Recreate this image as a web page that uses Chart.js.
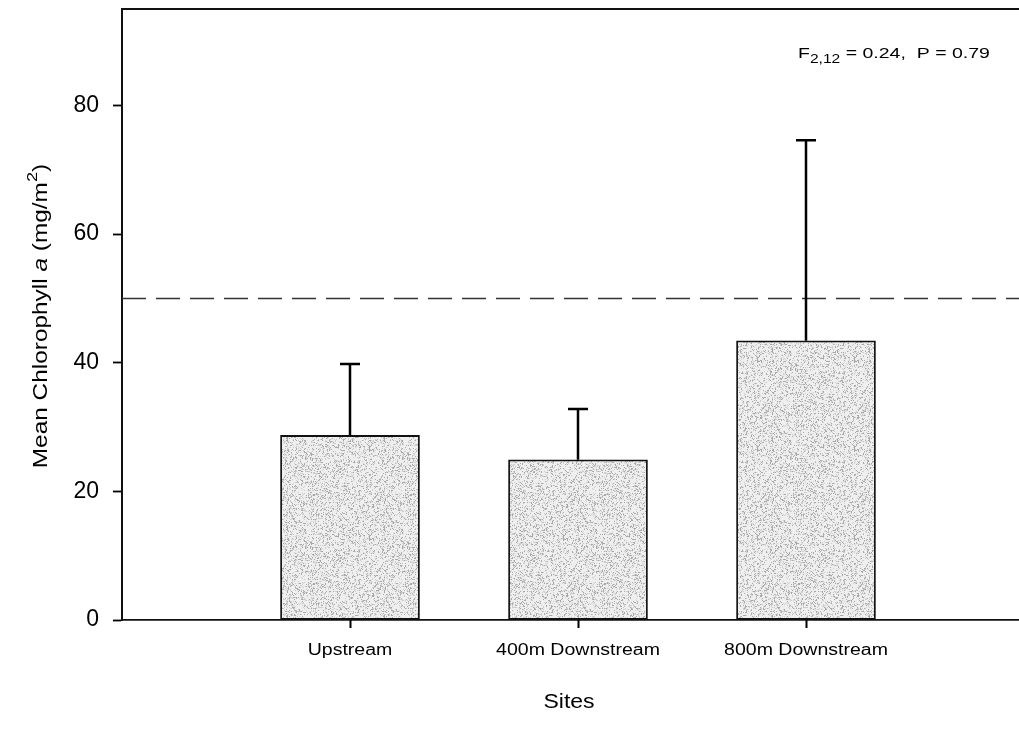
<!DOCTYPE html>
<html>
<head>
<meta charset="utf-8">
<script src="https://cdn.jsdelivr.net/npm/chart.js@4.4.0/dist/chart.umd.min.js"></script>
<style>
  html, body { margin: 0; padding: 0; background: #fff; overflow: hidden; }
  #wrap { position: relative; width: 1034px; height: 738px; }
</style>
</head>
<body>
<div id="wrap"><canvas id="chl"></canvas></div>
<script>
// Sites along the stream and their mean chlorophyll a (mg/m2)
const sites = ['Upstream', '400m Downstream', '800m Downstream'];
const meanChl = [28.7, 24.9, 43.4];
// upper error bar length for each site
const chlError = [11.1, 7.9, 31.2];
// dashed reference level
const thresholdLevel = 50;
const yTickValues = [0, 20, 40, 60, 80];
const yMax = 95;
const statsLabel = { f: 'F', df: '2,12', rest: ' = 0.24,  P = 0.79' };
const xTitle = 'Sites';

const FONT = '"Liberation Sans", Arial, Helvetica, sans-serif';
const STRETCH = 1.3;

// stippled grey fill for the bars
function stipple() {
  const c = document.createElement('canvas');
  c.width = 97; c.height = 89;
  const g = c.getContext('2d');
  g.fillStyle = '#efefef';
  g.fillRect(0, 0, c.width, c.height);
  for (let i = 0; i < c.width; i++) {
    for (let j = 0; j < c.height; j++) {
      let h = Math.imul(i, 374761393) + Math.imul(j, 668265263);
      h = Math.imul(h ^ (h >>> 13), 1274126177);
      h = (h ^ (h >>> 16)) >>> 0;
      const r = h % 100;
      if (r < 14) { g.fillStyle = '#a8a8a8'; g.fillRect(i, j, 1, 1); }
      else if (r < 30) { g.fillStyle = '#cdcdcd'; g.fillRect(i, j, 1, 1); }
    }
  }
  return g.createPattern(c, 'repeat');
}

// draw a run of text pieces, widened horizontally like the original figure
function drawPieces(ctx, pieces, x, y, rot, align, stretch) {
  const sx = stretch || STRETCH;
  ctx.save();
  let w = 0;
  pieces.forEach(p => {
    ctx.font = (p.italic ? 'italic ' : '') + p.size + 'px ' + FONT;
    p.w = ctx.measureText(p.t).width;
    w += p.w;
  });
  ctx.translate(x, y);
  ctx.rotate(rot || 0);
  ctx.scale(sx, 1);
  let cx = align === 'left' ? 0 : -w / 2;
  ctx.fillStyle = '#000';
  ctx.textBaseline = 'alphabetic';
  ctx.textAlign = 'left';
  pieces.forEach(p => {
    ctx.font = (p.italic ? 'italic ' : '') + p.size + 'px ' + FONT;
    ctx.fillText(p.t, cx, p.dy || 0);
    cx += p.w;
  });
  ctx.restore();
}

const decorations = {
  id: 'decorations',
  afterDatasetsDraw(chart) {
    const { ctx, chartArea: a } = chart;
    const xs = chart.scales.x, ys = chart.scales.y;
    ctx.save();
    // top frame line
    ctx.strokeStyle = '#111';
    ctx.lineWidth = 2;
    ctx.beginPath();
    ctx.moveTo(a.left - 1, a.top);
    ctx.lineTo(a.right, a.top);
    ctx.stroke();
    // category tick marks below the axis
    ctx.strokeStyle = '#000';
    ctx.lineWidth = 2;
    sites.forEach((s, k) => {
      const px = Math.round(xs.getPixelForTick(k + 1)) + 0.5;
      ctx.beginPath();
      ctx.moveTo(px, a.bottom);
      ctx.lineTo(px, a.bottom + 8);
      ctx.stroke();
    });
    // dashed reference line
    const ty = ys.getPixelForValue(thresholdLevel);
    ctx.strokeStyle = '#333';
    ctx.lineWidth = 1.5;
    ctx.setLineDash([24, 10]);
    ctx.beginPath();
    ctx.moveTo(a.left, ty);
    ctx.lineTo(a.right, ty);
    ctx.stroke();
    ctx.setLineDash([]);
    // upper error bars
    const meta = chart.getDatasetMeta(0);
    ctx.strokeStyle = '#000';
    ctx.lineWidth = 2.5;
    meta.data.forEach((bar, i) => {
      const k = i - 1;
      if (k < 0 || k >= meanChl.length) return;
      const top = ys.getPixelForValue(meanChl[k] + chlError[k]);
      ctx.beginPath();
      ctx.moveTo(bar.x, bar.y);
      ctx.lineTo(bar.x, top);
      ctx.moveTo(bar.x - 10, top);
      ctx.lineTo(bar.x + 10, top);
      ctx.stroke();
    });
    ctx.restore();
  },
  afterDraw(chart) {
    const { ctx } = chart;
    const xs = chart.scales.x;
    // category labels
    sites.forEach((s, k) => {
      const px = xs.getPixelForTick(k + 1);
      drawPieces(ctx, [{ t: s, size: 16 }], px, 655, 0, 'center', 1.22);
    });
    // axis titles
    drawPieces(ctx, [{ t: xTitle, size: 20 }], 569, 708, 0, 'center', 1.15);
    drawPieces(ctx, [
      { t: 'Mean Chlorophyll ', size: 20 },
      { t: 'a', size: 20, italic: true },
      { t: ' (mg/m', size: 20 },
      { t: '2', size: 15, dy: -10 },
      { t: ')', size: 20 }
    ], 47, 316, -Math.PI / 2, 'center', 1.22);
    // test statistics
    drawPieces(ctx, [
      { t: statsLabel.f, size: 15 },
      { t: statsLabel.df, size: 12, dy: 5 },
      { t: statsLabel.rest, size: 15 }
    ], 798, 58, 0, 'left', 1.3);
  }
};

const ctx = document.getElementById('chl').getContext('2d');
const labels = [''].concat(sites, ['']);

new Chart(ctx, {
  type: 'bar',
  data: {
    labels: labels,
    datasets: [{
      data: [null].concat(meanChl, [null]),
      backgroundColor: stipple(),
      borderColor: '#111',
      borderWidth: 1.8,
      borderSkipped: false,
      barThickness: 139
    }]
  },
  options: {
    responsive: true,
    maintainAspectRatio: false,
    animation: false,
    events: [],
    layout: { padding: { top: 9, right: 0, bottom: 0, left: 0 } },
    plugins: { legend: { display: false }, tooltip: { enabled: false } },
    scales: {
      x: {
        type: 'category',
        offset: false,
        grid: { display: false, offset: false },
        border: { display: true, color: '#111', width: 1.8 },
        ticks: { display: false, autoSkip: false },
        afterFit: s => { s.height = 118; s.paddingLeft = 0; s.paddingRight = 0; }
      },
      y: {
        min: 0,
        max: yMax,
        afterBuildTicks: s => { s.ticks = yTickValues.map(v => ({ value: v })); },
        grid: {
          display: true,
          drawOnChartArea: false,
          drawTicks: true,
          tickLength: 9,
          tickWidth: 1.8,
          tickColor: '#000'
        },
        border: { display: true, color: '#111', width: 2 },
        ticks: {
          color: '#000',
          padding: 14,
          font: { family: FONT, size: 23 }
        },
        afterFit: s => { s.width = 122; s.paddingTop = 0; s.paddingBottom = 0; }
      }
    }
  },
  plugins: [decorations]
});
</script>
</body>
</html>
